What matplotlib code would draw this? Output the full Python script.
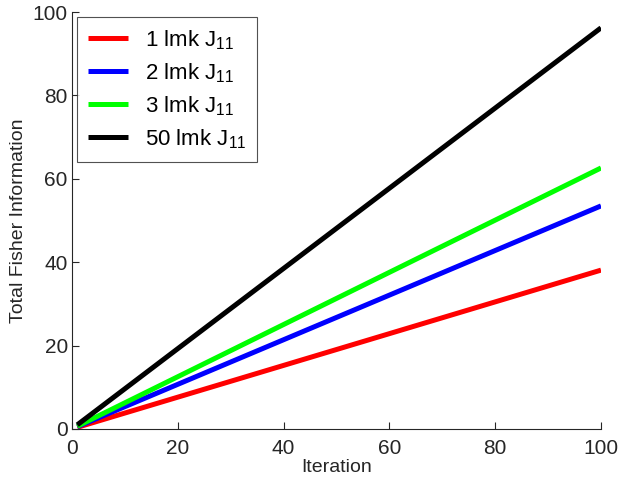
import matplotlib
matplotlib.use('Agg')
from matplotlib import pyplot as plt

# data: values at iteration 1 and iteration 100
iterations = [1, 100]
lmk1_j11 = [0.4, 38.1]
lmk2_j11 = [0.55, 53.5]
lmk3_j11 = [0.65, 62.6]
lmk50_j11 = [1.0, 96.2]

labels = ['1 lmk J$_{11}$', '2 lmk J$_{11}$', '3 lmk J$_{11}$', '50 lmk J$_{11}$']
colors = ['#ff0000', '#0000ff', '#00ff00', '#000000']

plt.rcParams['font.family'] = ['Liberation Sans', 'DejaVu Sans']
plt.rcParams['mathtext.fontset'] = 'custom'
plt.rcParams['mathtext.rm'] = 'Liberation Sans'
plt.rcParams['mathtext.it'] = 'Liberation Sans'


def main():
    fig = plt.figure(figsize=(6.2, 4.83), dpi=100)
    ax = fig.add_axes([72 / 620, 1 - 429 / 483, (601 - 72) / 620, (429 - 12) / 483])

    for series, label, color in zip([lmk1_j11, lmk2_j11, lmk3_j11, lmk50_j11], labels, colors):
        ax.plot(iterations, series, color=color, linewidth=3.6, label=label,
                solid_capstyle='butt')

    ax.set_xlim(0, 100)
    ax.set_ylim(0, 100)
    ax.set_xticks(range(0, 101, 20))
    ax.set_yticks(range(0, 101, 20))
    ax.spines['top'].set_visible(False)
    ax.spines['right'].set_visible(False)
    for side in ['left', 'bottom']:
        ax.spines[side].set_color('#262626')
        ax.spines[side].set_linewidth(0.8)
    ax.tick_params(direction='in', length=5, width=0.8, labelsize=15,
                   colors='#262626')
    ax.tick_params(axis='x', pad=7)
    ax.tick_params(axis='y', pad=3)

    ax.set_xlabel('Iteration', fontsize=14, color='#262626', labelpad=1)
    ax.set_ylabel('Total Fisher Information', fontsize=14, color='#262626', labelpad=4)

    leg = ax.legend(loc='upper left', bbox_to_anchor=(5 / 529, 412 / 417), fontsize=16,
                    frameon=True, fancybox=False, edgecolor='#262626',
                    borderaxespad=0, handlelength=1.8, handletextpad=0.75,
                    labelspacing=0.42, borderpad=0.5)
    leg.get_frame().set_linewidth(0.8)

    plt.savefig('out.png', dpi=100)


if __name__ == '__main__':
    main()
